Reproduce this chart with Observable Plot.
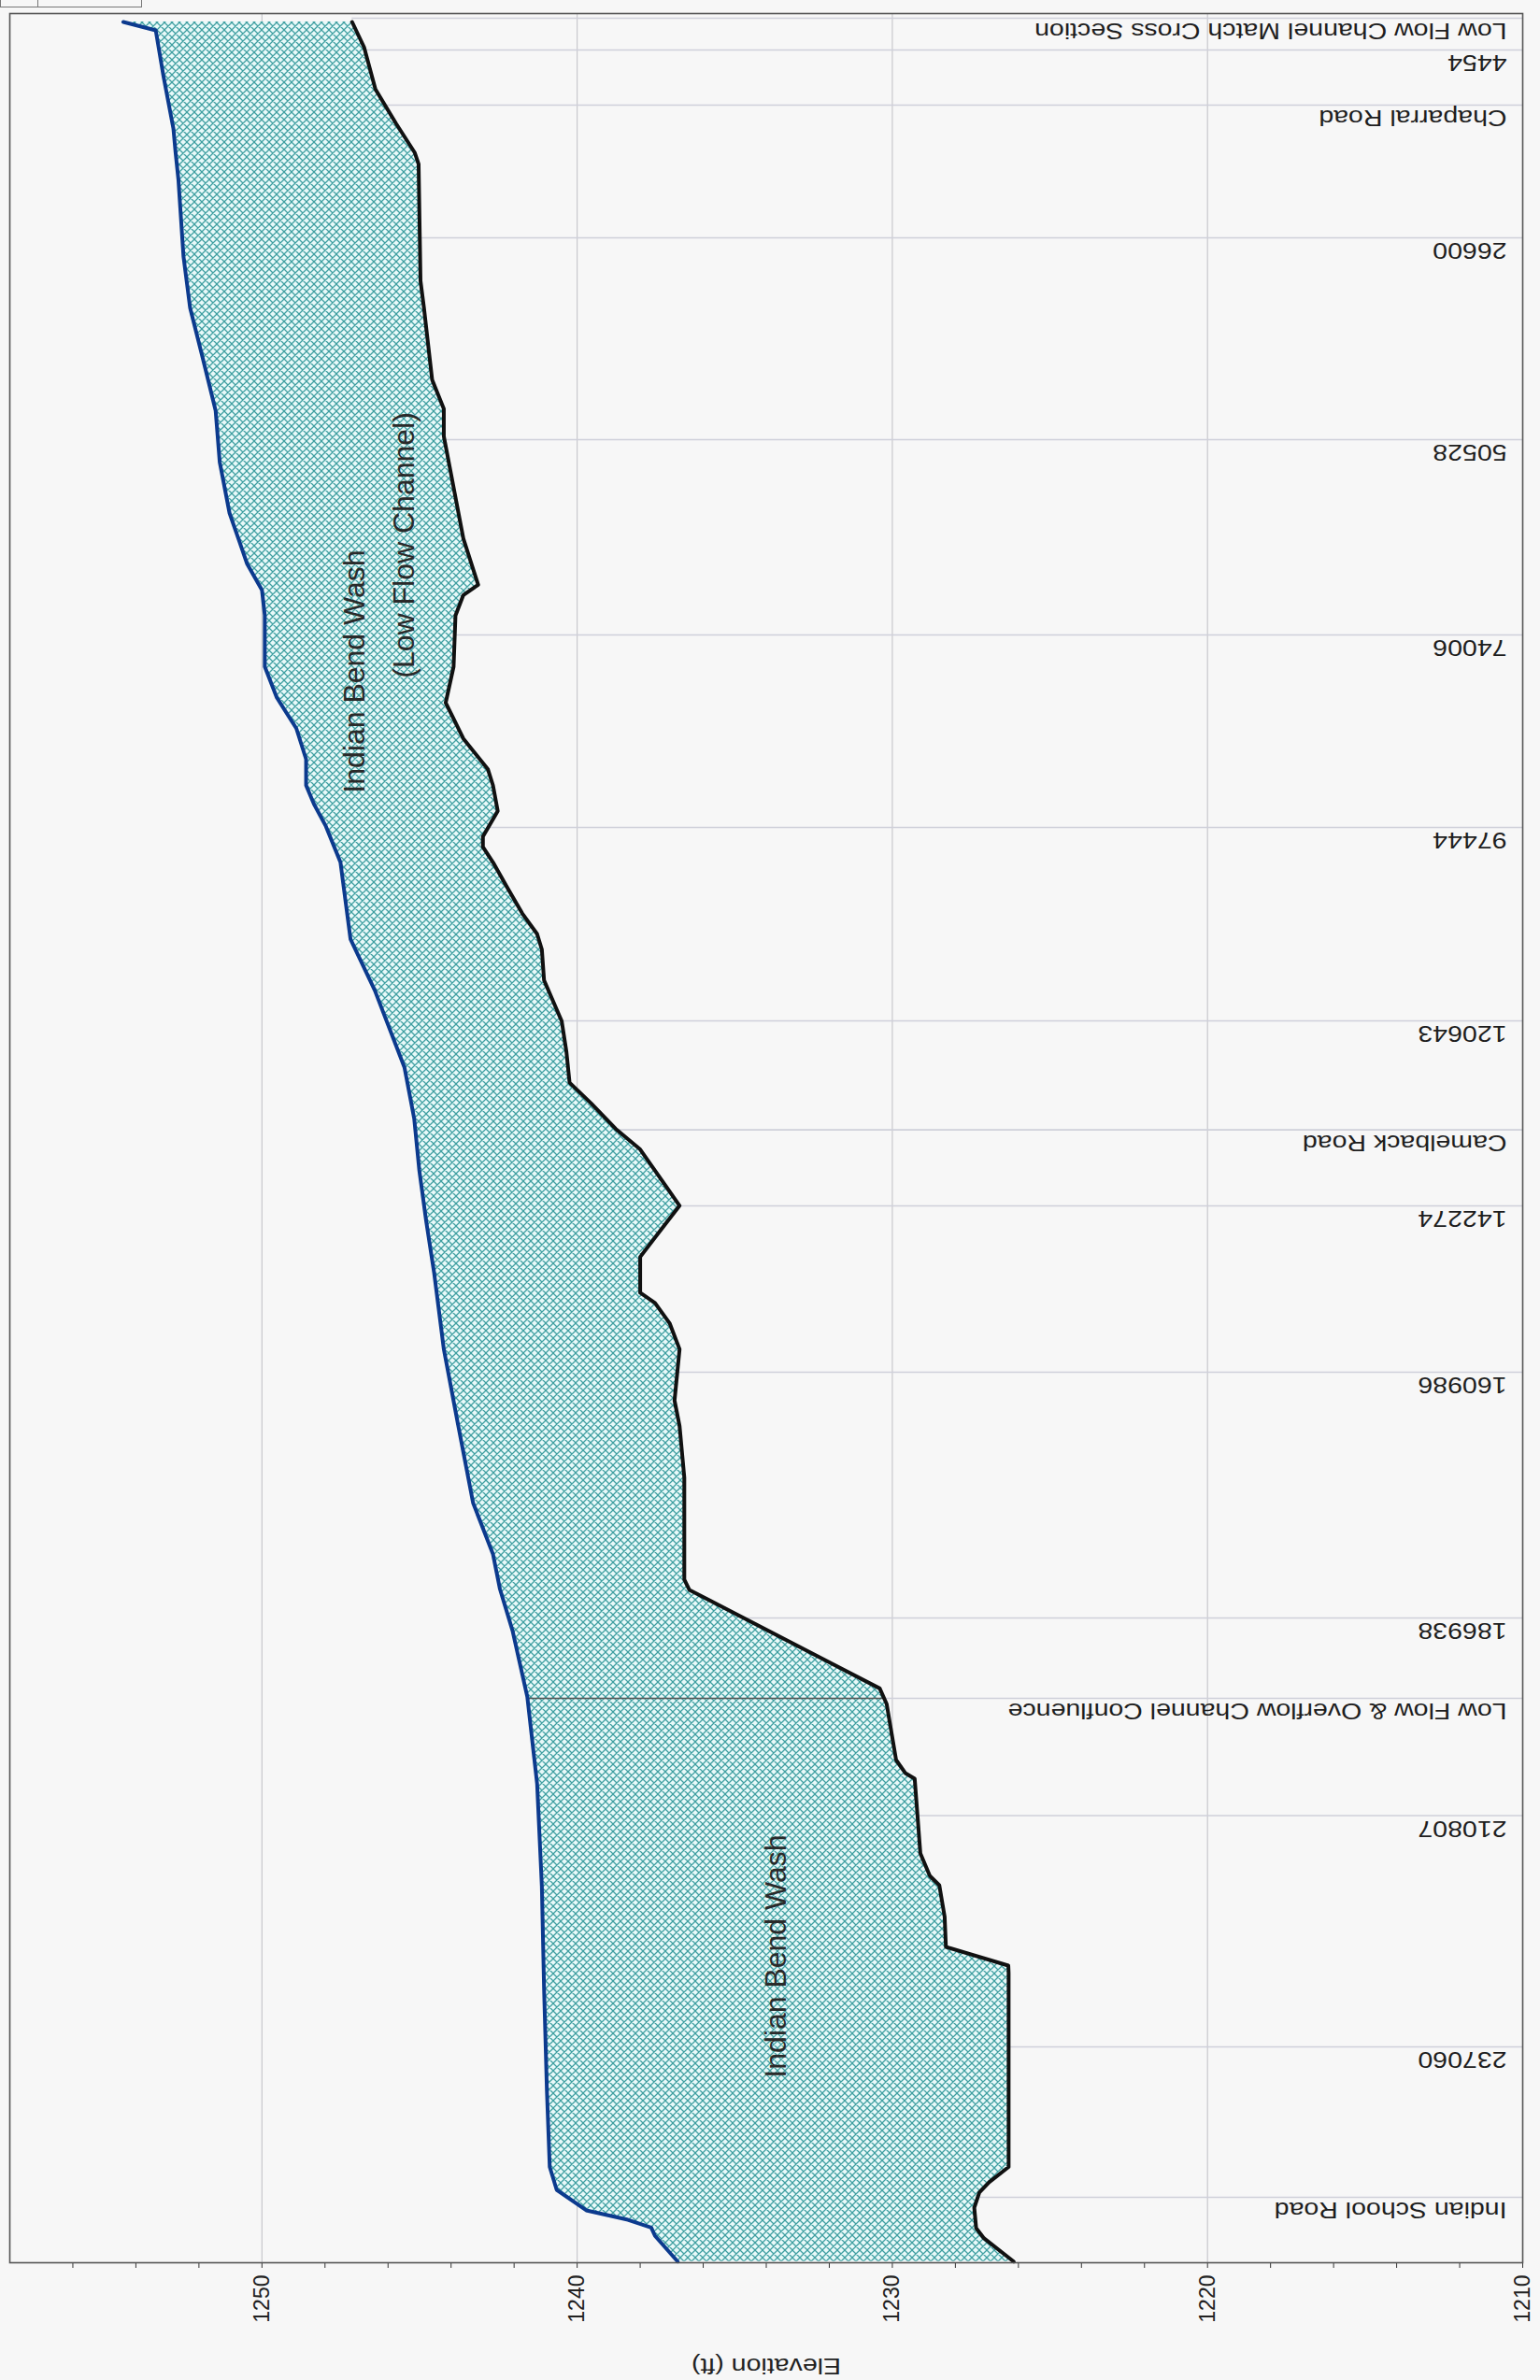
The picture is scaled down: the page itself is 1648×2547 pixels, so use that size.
<!DOCTYPE html>
<html>
<head>
<meta charset="utf-8">
<script src="https://cdn.jsdelivr.net/npm/d3@7"></script>
<script src="https://cdn.jsdelivr.net/npm/@observablehq/plot@0.6"></script>
<style>
  html, body { margin: 0; padding: 0; background: #f7f7f7; }
  #wrap { position: relative; width: 1648px; height: 2547px; }
  #stub { position: absolute; left: 0; top: 0; width: 150px; height: 7px; border: 1px solid #777; border-top: none; }
  #stub div { position: absolute; left: 39px; top: 0; height: 7px; border-left: 1px solid #777; }
</style>
</head>
<body>
<div id="wrap"></div>
<script>
// ---- Data (distance along channel, ft; elevation, ft) ----
const waterDist = [980, 1960, 7400, 13390, 16220, 19380, 28300, 34290, 40270, 46260, 52250, 58180,
  64110, 67160, 70100, 76090, 79680, 83270, 86860, 89910, 92090, 94690, 98870, 107830,
  113790, 122750, 128720, 134690, 140660, 146630, 155590, 164550, 173510, 179470, 183520, 188370,
  196110, 206230, 218120, 230020, 241910, 250840, 253510, 255900, 257000, 257900, 258870, 261860];
const waterElev = [1254.40, 1253.37, 1253.12, 1252.81, 1252.74, 1252.65, 1252.49, 1252.28, 1251.87, 1251.47, 1251.34, 1251.03,
  1250.47, 1250.00, 1249.91, 1249.91, 1249.53, 1248.91, 1248.60, 1248.60, 1248.35, 1247.97, 1247.51, 1247.19,
  1246.42, 1245.48, 1245.17, 1245.01, 1244.79, 1244.54, 1244.23, 1243.77, 1243.30, 1242.67, 1242.45, 1242.05,
  1241.58, 1241.27, 1241.12, 1241.05, 1240.96, 1240.87, 1240.65, 1239.71, 1238.39, 1237.65, 1237.53, 1236.81];

const bedDist = [980, 3920, 8820, 12840, 16220, 17530, 31130, 34290, 42670, 46040, 49240, 55190,
  61170, 66540, 67740, 70130, 76090, 80280, 84460, 88040, 89910, 92890, 95880, 97070,
  98870, 101850, 104830, 107220, 109010, 112600, 117370, 120950, 124540, 126930, 129910, 132310,
  138870, 141850, 144840, 149010, 150200, 152600, 155590, 161560, 164550, 170520, 176490, 182430,
  183620, 195100, 196910, 203440, 204960, 205620, 214330, 216940, 218020, 221700, 225210, 227390,
  228230, 250840, 252620, 253810, 255600, 257980, 259160, 261860];
const bedElev = [1247.14, 1246.76, 1246.40, 1245.74, 1245.15, 1245.03, 1244.97, 1244.86, 1244.60, 1244.23, 1244.23, 1243.92,
  1243.61, 1243.14, 1243.61, 1243.86, 1243.92, 1244.17, 1243.61, 1242.83, 1242.67, 1242.52, 1242.99, 1242.99,
  1242.67, 1242.21, 1241.74, 1241.27, 1241.12, 1241.05, 1240.49, 1240.34, 1240.24, 1239.56, 1238.78, 1238.00,
  1236.75, 1237.38, 1238.00, 1238.00, 1237.53, 1237.06, 1236.75, 1236.91, 1236.75, 1236.60, 1236.60, 1236.60,
  1236.44, 1230.40, 1230.18, 1229.88, 1229.59, 1229.29, 1229.11, 1228.81, 1228.51, 1228.34, 1228.30, 1226.32,
  1226.31, 1226.31, 1226.93, 1227.24, 1227.40, 1227.34, 1227.09, 1226.15];

const stationLabels = ["Low Flow Channel Match Cross Section", "4454", "Chaparral Road", "26600", "50528", "74006",
  "97444", "120643", "Camelback Road", "142274", "160986", "186938",
  "Low Flow & Overflow Channel Confluence", "210807", "237060", "Indian School Road"];
const stationDist = [540, 4250, 10670, 26120, 49640, 72390, 94810, 117340, 130030, 138890, 158270, 186900,
  196260, 209920, 236860, 254380];

const confluenceDist = 196260;

const washText = ["Indian Bend Wash", "(Low Flow Channel)", "Indian Bend Wash"];
const washElev = [1247.05, 1245.48, 1233.68];
const washDist = [76630, 61930, 226300];

const elevTicks = [1210, 1212, 1214, 1216, 1218, 1220, 1222, 1224, 1226, 1228, 1230, 1232, 1234, 1236, 1238,
  1240, 1242, 1244, 1246, 1248, 1250, 1252, 1254, 1256];
const elevLabels = [1210, 1220, 1230, 1240, 1250];
const elevGrid = [1220, 1230, 1240, 1250];
const axisTitle = "Elevation (ft)";

// ---- Helpers ----
function interp(xs, ys) {
  return d => {
    const i = d3.bisectLeft(xs, d);
    if (i <= 0) return ys[0];
    if (i >= xs.length) return ys[ys.length - 1];
    const t = (d - xs[i - 1]) / (xs[i] - xs[i - 1]);
    return ys[i - 1] + t * (ys[i] - ys[i - 1]);
  };
}
const waterAt = interp(waterDist, waterElev);
const bedAt = interp(bedDist, bedElev);

const water = waterDist.map((d, i) => ({d, e: waterElev[i]}));
const bed = bedDist.map((d, i) => ({d, e: bedElev[i]}));
const allD = Array.from(new Set([...waterDist, ...bedDist])).sort((a, b) => a - b);
const band = allD.map(d => ({d, top: waterAt(d), bot: bedAt(d)}));
const stations = stationLabels.map((label, i) => ({label, d: stationDist[i], ground: bedAt(stationDist[i])}));
const confluence = [{d: confluenceDist, top: waterAt(confluenceDist), bot: bedAt(confluenceDist)}];
const washes = washText.map((t, i) => ({t, e: washElev[i], d: washDist[i]}));
const labelSet = new Set(elevLabels);

const font = "Arial, 'Liberation Sans', sans-serif";

const chart = Plot.plot({
  width: 1648,
  height: 2547,
  marginLeft: 10,
  marginRight: 19,
  marginTop: 14,
  marginBottom: 126,
  style: {fontFamily: font, background: "transparent", color: "#222"},
  x: {domain: [1258, 1210], axis: null},
  y: {domain: [0, 262000], reverse: true, axis: null},
  marks: [
    Plot.gridX(elevGrid, {stroke: "#c8c8cc", strokeOpacity: 1, strokeWidth: 1.2}),
    Plot.ruleY(stations, {y: "d", x1: "ground", x2: 1210, stroke: "#cfd0da", strokeWidth: 1.6}),
    Plot.areaX(band, {y: "d", x1: "top", x2: "bot", fill: "url(#ibwHatch)", fillOpacity: 1}),
    Plot.ruleY(confluence, {y: "d", x1: "top", x2: "bot", stroke: "#555", strokeWidth: 1.4}),
    Plot.lineX(water, {x: "e", y: "d", stroke: "#0c3a8e", strokeWidth: 4, curve: "linear"}),
    Plot.lineX(bed, {x: "e", y: "d", stroke: "#111", strokeWidth: 4, curve: "linear"}),
    Plot.text(washes, {x: "e", y: "d", text: "t", rotate: -90, fontSize: 32, fill: "#2a2a2a"}),
    Plot.text(stations, {y: "d", text: "label", frameAnchor: "right", rotate: 180, textAnchor: "start",
      dx: -17, dy: 13, fontSize: 23, fill: "#1e1e1e"}),
    Plot.axisX({ticks: elevTicks, tickFormat: v => labelSet.has(v) ? String(v) : "", tickSize: 6,
      tickRotate: -90, tickPadding: 7, fontSize: 23, label: null, anchor: "bottom", stroke: "#333", fill: "#222"}),
    Plot.frame({stroke: "#555", strokeWidth: 1.6}),
    Plot.text([axisTitle], {frameAnchor: "bottom", rotate: 180, dy: 102, fontSize: 23, fill: "#222",
      text: d => d})
  ]
});

const svgSel = d3.select(chart);
// Cross-hatch pattern definition for the channel fill
const defs = svgSel.insert("defs", ":first-child");
const pat = defs.append("pattern")
  .attr("id", "ibwHatch")
  .attr("patternUnits", "userSpaceOnUse")
  .attr("width", 8).attr("height", 8);
pat.append("rect").attr("width", 8).attr("height", 8).attr("fill", "#e8f9f9");
pat.append("path")
  .attr("d", "M-2,2 L2,-2 M0,8 L8,0 M6,10 L10,6 M-2,6 L2,10 M0,0 L8,8 M6,-2 L10,2")
  .attr("stroke", "#3f9fa1").attr("stroke-width", 1.25).attr("fill", "none");

// Horizontally widened lettering, as in the scanned original
const widen = new Set([...stationLabels, axisTitle]);
svgSel.selectAll("text")
  .filter(function() { return widen.has(this.textContent); })
  .each(function() {
    const t = this.getAttribute("transform") || "";
    if (t.includes("rotate")) this.setAttribute("transform", t + " scale(1.24,1)");
  });

const wrap = document.getElementById("wrap");
wrap.appendChild(chart);
const stub = document.createElement("div");
stub.id = "stub";
stub.appendChild(document.createElement("div"));
wrap.appendChild(stub);
</script>
</body>
</html>
